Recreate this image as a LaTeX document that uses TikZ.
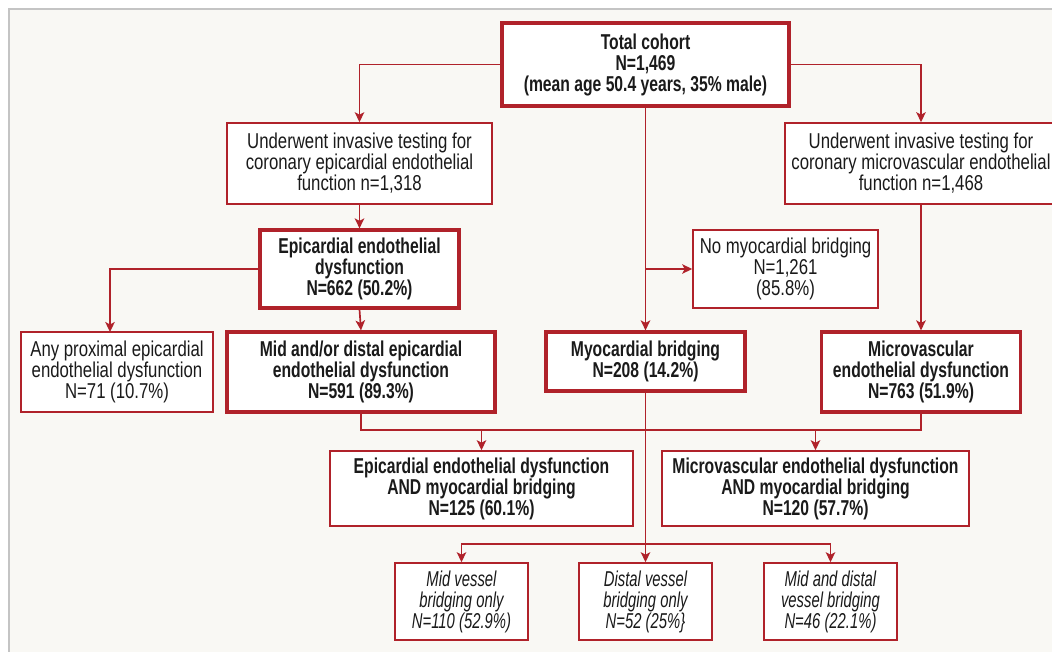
\documentclass[tikz,border=0pt]{standalone}
\usepackage{fontspec}
\setmainfont{Liberation Sans}[FakeStretch=0.78]
\newfontfamily\fbd{Liberation Sans}[FakeStretch=0.73]
\newfontfamily\fit{Liberation Sans}[FakeStretch=0.69]
\usetikzlibrary{arrows.meta}
\definecolor{dred}{HTML}{B0222A}
\definecolor{bgc}{HTML}{F9F8F4}
\definecolor{frm}{HTML}{C4C4C4}
\definecolor{txt}{HTML}{1A1A1A}
\tikzset{
  base/.style={draw=dred, fill=white, text=txt, align=center, inner sep=0pt,
    font=\fontsize{21.5}{21}\selectfont},
  thin/.style={base, line width=1.6pt},
  thick/.style={base, line width=3.2pt, font=\fbd\bfseries\fontsize{21.5}{21}\selectfont},
  boldthin/.style={thin, font=\fbd\bfseries\fontsize{21.5}{21}\selectfont},
  ital/.style={thin, font=\fit\itshape\fontsize{21.5}{21}\selectfont},
  conn/.style={draw=dred, line width=1.7pt},
  arr/.style={conn, -{Stealth[length=10pt,width=9.5pt,inset=2.5pt]}},
}
\begin{document}
\begin{tikzpicture}[x=1pt,y=-1pt]
\useasboundingbox (0,0) rectangle (1052,651);
\fill[white] (0,0) rectangle (1052,651);
\fill[bgc] (9,9) rectangle (1060,660);
\draw[frm, line width=1.5pt] (9,660) -- (9,9) -- (1060,9);

\node[thick, minimum width=287pt, minimum height=83pt] (total) at (645.5,64.5)
  {Total cohort\\N=1,469\\(mean age 50.4 years, 35\% male)};
\node[thin, minimum width=265pt, minimum height=81pt] (epitest) at (359.5,163.5)
  {Underwent invasive testing for\\coronary epicardial endothelial\\function n=1,318};
\node[thin, minimum width=272pt, minimum height=81pt] (microtest) at (921,163.5)
  {Underwent invasive testing for\\coronary microvascular endothelial\\function n=1,468};
\node[thick, minimum width=199pt, minimum height=78pt] (epidys) at (359.5,269)
  {Epicardial endothelial\\dysfunction\\N=662 (50.2\%)};
\node[thin, minimum width=185pt, minimum height=78pt] (nomb) at (785.5,269)
  {No myocardial bridging\\N=1,261\\(85.8\%)};
\node[thin, minimum width=192pt, minimum height=80pt] (prox) at (117,372)
  {Any proximal epicardial\\endothelial dysfunction\\N=71 (10.7\%)};
\node[thick, minimum width=268pt, minimum height=80pt] (middist) at (361,372)
  {Mid and/or distal epicardial\\endothelial dysfunction\\N=591 (89.3\%)};
\node[thick, minimum width=199pt, minimum height=59pt] (mb) at (645.5,361.5)
  {Myocardial bridging\\N=208 (14.2\%)};
\node[thick, minimum width=199pt, minimum height=80pt] (microdys) at (921,372)
  {Microvascular\\endothelial dysfunction\\N=763 (51.9\%)};
\node[boldthin, minimum width=303pt, minimum height=75pt] (epimb) at (481.5,488.5)
  {Epicardial endothelial dysfunction\\AND myocardial bridging\\N=125 (60.1\%)};
\node[boldthin, minimum width=307pt, minimum height=75pt] (micromb) at (815.5,488.5)
  {Microvascular endothelial dysfunction\\AND myocardial bridging\\N=120 (57.7\%)};
\node[ital, minimum width=133pt, minimum height=77pt] (midv) at (461.5,601.5)
  {Mid vessel\\bridging only\\N=110 (52.9\%)};
\node[ital, minimum width=133pt, minimum height=77pt] (distv) at (645.5,601.5)
  {Distal vessel\\bridging only\\N=52 (25\%\}};
\node[ital, minimum width=133pt, minimum height=77pt] (middistv) at (830.5,601.5)
  {Mid and distal\\vessel bridging\\N=46 (22.1\%)};

\coordinate (pa) at (110,332);
\coordinate (hl) at (0,430);
\coordinate (bl) at (0,544);

\draw[arr] (total.west) -| (epitest.north);
\draw[arr] (total.east) -| (microtest.north);
\draw[arr] (total.south) -- (mb.north);
\draw[arr] (total.south |- nomb.west) -- (nomb.west);
\draw[arr] (epitest.south) -- (epidys.north);
\draw[arr] (epidys.west) -| (pa);
\draw[arr] (epidys.south) -- (middist.north);
\draw[arr] (microtest.south) -- (microdys.north);
\draw[conn] (middist.south) |- (microdys.south |- hl) -- (microdys.south);
\draw[arr] (epimb.north |- hl) -- (epimb.north);
\draw[arr] (micromb.north |- hl) -- (micromb.north);
\draw[arr] (mb.south) -- (distv.north);
\draw[arr] (mb.south |- bl) -| (midv.north);
\draw[arr] (mb.south |- bl) -| (middistv.north);
\end{tikzpicture}
\end{document}
